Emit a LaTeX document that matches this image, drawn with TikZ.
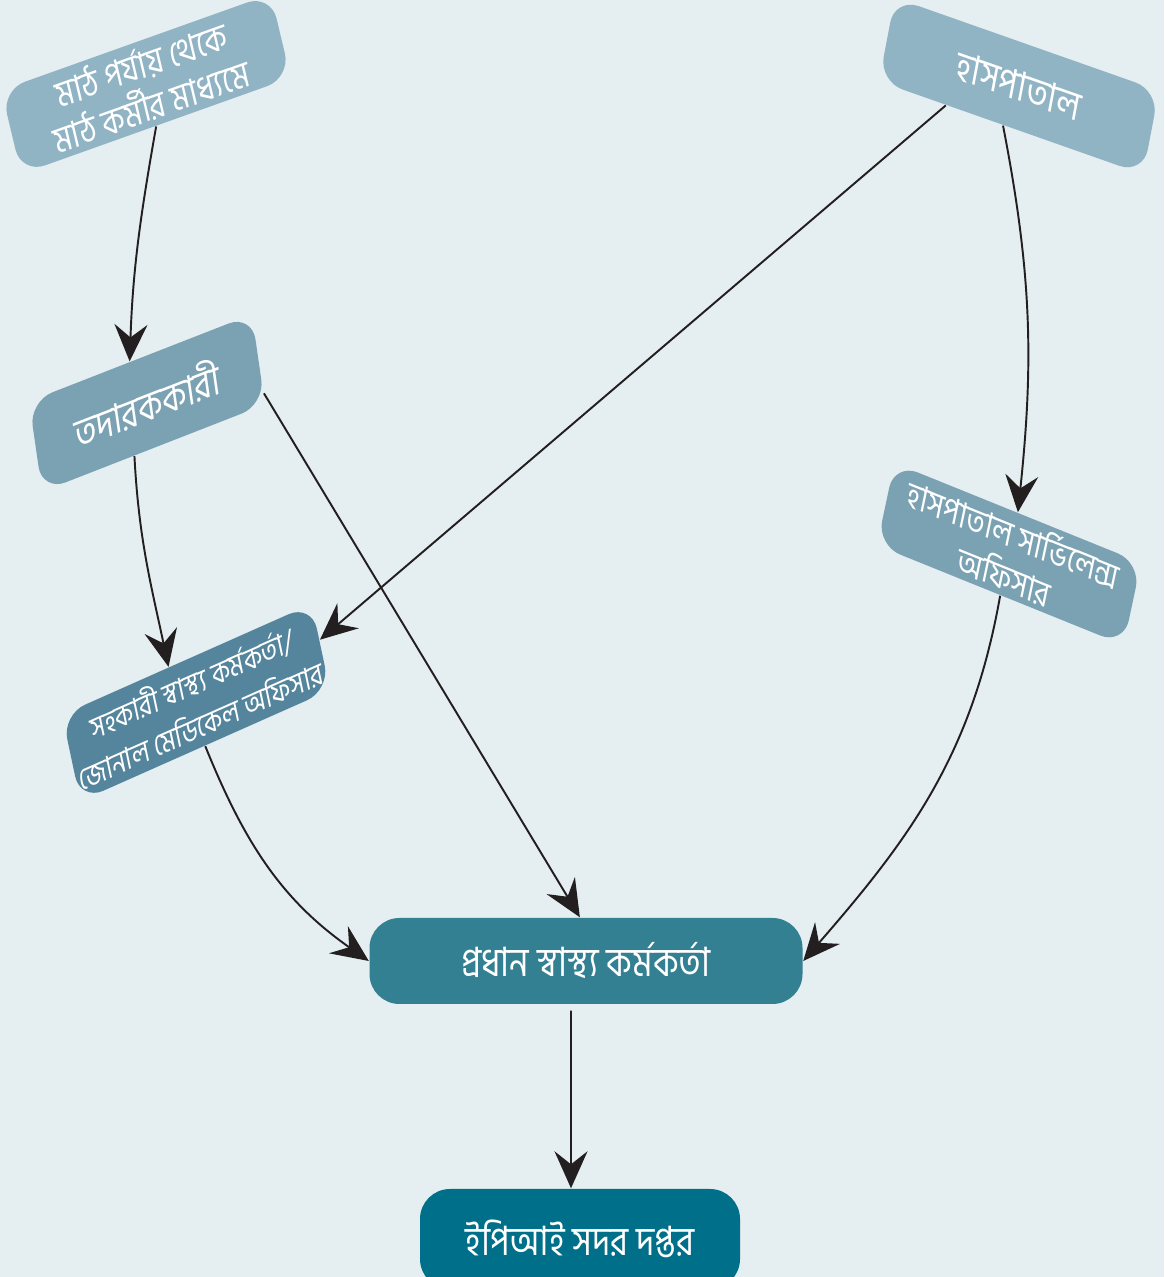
\documentclass[tikz,border=0pt]{standalone}
\usepackage{fontspec}
\newfontfamily\bangla[Script=Bengali, FakeStretch=0.85]{Hind Siliguri}
\usetikzlibrary{arrows.meta}
\tikzset{%
  box/.style={rounded corners=0.25cm, text=white, align=center, inner sep=0pt,
    font=\bangla\fontsize{11.500000}{11.500000}\selectfont},%
  link/.style={draw={rgb,255:red,35;green,31;blue,32}, line width=0.55pt,
    -{Stealth[length=0.37cm,width=0.33cm,inset=0.13cm]}},%
}
\begin{document}
\begin{tikzpicture}%
\useasboundingbox (0, 0) rectangle (11.640000, 12.770000);%
\fill[fill={rgb,255:red,229;green,238;blue,241}] (0, 0) rectangle (11.640000, 12.770000);%
% upper row
\node[box, fill={rgb,255:red,145;green,180;blue,197}, minimum width=2.860000cm, minimum height=0.860000cm, cm={0.942,0.336,-0.232,0.973,(0,0)}, font=\bangla\fontsize{10.400000}{12.200000}\selectfont] (field) at (1.460000, 11.930000) {মাঠ পর্যায় থেকে\\মাঠ কর্মীর মাধ্যমে};%
\node[box, fill={rgb,255:red,145;green,180;blue,197}, minimum width=2.800000cm, minimum height=0.850000cm, cm={0.943,-0.332,0.187,0.982,(0,0)}] (hosp) at (10.190000, 11.910000) {হাসপাতাল};%
% middle row
\node[box, fill={rgb,255:red,122;green,162;blue,179}, minimum width=2.390000cm, minimum height=0.910000cm, cm={0.932,0.364,-0.143,0.990,(0,0)}] (sup) at (1.470000, 8.740000) {তদারককারী};%
\node[box, fill={rgb,255:red,122;green,162;blue,179}, minimum width=2.660000cm, minimum height=0.840000cm, cm={0.927,-0.375,0.208,0.978,(0,0)}, font=\bangla\fontsize{10.000000}{12.200000}\selectfont] (surv) at (10.090000, 7.230000) {হাসপাতাল সার্ভিলেন্স\\অফিসার};%
\node[box, fill={rgb,255:red,84;green,133;blue,156}, minimum width=2.730000cm, minimum height=0.880000cm, cm={0.914,0.406,-0.208,0.978,(0,0)}, font=\bangla\fontsize{8.700000}{12.200000}\selectfont] (asst) at (1.960000, 5.745000) {সহকারী স্বাস্থ্য কর্মকর্তা/\\জোনাল মেডিকেল অফিসার};%
% lower row
\node[box, fill={rgb,255:red,50;green,128;blue,146}, minimum width=4.330000cm, minimum height=0.860000cm, rounded corners=0.3cm] (chief) at (5.860000, 3.160000) {প্রধান স্বাস্থ্য কর্মকর্তা};%
\node[box, fill={rgb,255:red,0;green,111;blue,137}, minimum width=3.200000cm, minimum height=1.000000cm, rounded corners=0.3cm] (epi) at (5.800000, 0.380000) {ইপিআই সদর দপ্তর};%
% links
\draw[link] (field.south) to[out=-100, in=88] (sup.104);%
\draw[link] (hosp.-148) -- (asst.3);%
\draw[link] (hosp.-101) to[out=-79, in=84] (surv.north);%
\draw[link] (sup.-16) -- (chief.98);%
\draw[link] (sup.-114) to[out=-87, in=102] (asst.114);%
\draw[link] (asst.south) to[out=-68, in=145] (chief.west);%
\draw[link] (surv.south) to[out=-100, in=49] (chief.east);%
\draw[link] ([xshift=-0.15cm, yshift=-0.06cm]chief.south) -- ([xshift=-0.09cm]epi.north);%
\end{tikzpicture}
\end{document}
